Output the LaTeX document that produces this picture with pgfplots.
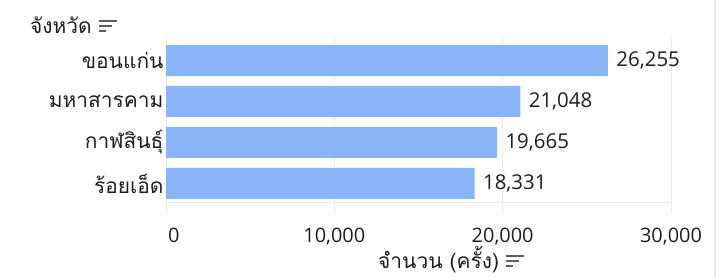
\documentclass[border=0pt]{standalone}
\usepackage{pgfplots}
\pgfplotsset{compat=1.18}
\usepackage{fontspec}
\setmainfont{Open Sans}
\newfontfamily\thai[Script=Thai]{Loma}
\definecolor{barblue}{RGB}{138,180,248}
\definecolor{txt}{RGB}{30,30,30}
\definecolor{gridc}{RGB}{234,234,234}
\definecolor{iconc}{RGB}{96,94,92}
\newcommand\sorticon{\textcolor{iconc}{\raisebox{1bp}{\vbox{\hrule width 18bp height 2bp \vskip 3bp \hrule width 13bp height 2bp \vskip 3bp \hrule width 7bp height 2bp}}}}
\begin{document}
\begin{tikzpicture}
\path[use as bounding box] (0,0) rectangle (723bp,278bp);
\draw[gridc, line width=1.2bp] (715bp,0) -- (715bp,278bp);
\begin{axis}[
  at={(166bp,65bp)}, anchor=south west,
  scale only axis, width=505bp, height=175bp,
  xmin=0, xmax=30000, ymin=-0.549, ymax=3.72,
  y dir=reverse,
  axis line style={draw=none},
  major tick length=0pt,
  scaled x ticks=false,
  xtick={0,10000,20000,30000},
  xticklabels={\hspace*{4bp}\makebox[0pt][l]{0}, {10,000}, {20,000}, {30,000}},
  xticklabel style={font=\fontsize{20}{22}\selectfont, text=txt, yshift=-12bp},
  xmajorgrids, major grid style={draw=gridc, line width=1bp},
  ytick={0,1,2,3},
  yticklabels={ขอนแก่น, มหาสารคาม, กาฬสินธุ์, ร้อยเอ็ด},
  yticklabel style={font=\thai\fontsize{21}{23}\selectfont, text=txt, xshift=1bp},
  extra y ticks={3.475}, extra y tick labels={},
  extra y tick style={ymajorgrids=true},
  xbar, bar width=31bp,
  point meta=x,
  nodes near coords,
  nodes near coords style={font=\fontsize{20.5}{22}\selectfont, text=txt, anchor=west, xshift=5bp,
    /pgf/number format/.cd, fixed, precision=0, 1000 sep={,}, assume math mode=true},
  /pgf/number format/assume math mode=true,
  clip=false,
]
\addplot[fill=barblue, draw=none] coordinates {(26255,0) (21048,1) (19665,2) (18331,3)};
\end{axis}
\node[anchor=west, inner sep=0pt, text=txt, font=\thai\fontsize{21}{23}\selectfont] at (30bp,253bp) {จังหวัด\ \sorticon};
\node[anchor=west, inner sep=0pt, text=txt, font=\thai\fontsize{21}{23}\selectfont] at (378bp,18.5bp) {จำนวน (ครั้ง)\ \sorticon};
\end{tikzpicture}
\end{document}
